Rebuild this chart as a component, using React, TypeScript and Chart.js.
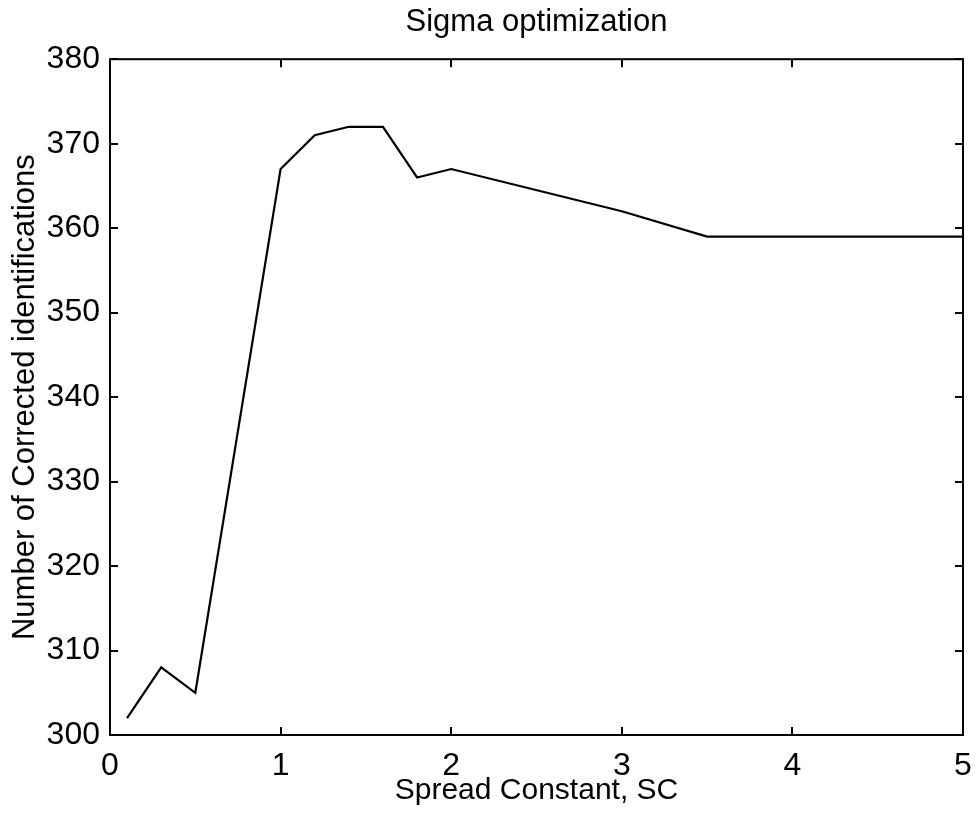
import React, { useEffect, useRef } from "react";
import { Chart, registerables } from "chart.js";

Chart.register(...registerables);

const spreadConstant = [0.1, 0.3, 0.5, 1.0, 1.2, 1.4, 1.6, 1.8, 2.0, 3.0, 3.5, 4.0, 4.5, 5.0];
const correctedIds = [302, 308, 305, 367, 371, 372, 372, 366, 367, 362, 359, 359, 359, 359];

const titleText = "Sigma optimization";
const xTitle = "Spread Constant, SC";
const yTitle = "Number of Corrected identifications";

const FONT = "'Liberation Sans', Arial, Helvetica, sans-serif";

const framePlugin = {
  id: "matlabFrame",
  afterDraw(chart: any) {
    const { ctx, chartArea, scales } = chart;
    const { left, right, top, bottom } = chartArea;
    const x = scales.x;
    const y = scales.y;
    const len = 8;
    ctx.save();
    ctx.strokeStyle = "#000";
    ctx.lineWidth = 2;
    ctx.beginPath();
    x.ticks.forEach((t: any) => {
      const px = Math.round(x.getPixelForValue(t.value));
      ctx.moveTo(px, bottom);
      ctx.lineTo(px, bottom - len);
      ctx.moveTo(px, top);
      ctx.lineTo(px, top + len);
    });
    y.ticks.forEach((t: any) => {
      const py = Math.round(y.getPixelForValue(t.value));
      ctx.moveTo(left, py);
      ctx.lineTo(left + len, py);
      ctx.moveTo(right, py);
      ctx.lineTo(right - len, py);
    });
    ctx.stroke();
    ctx.strokeRect(left, top, right - left, bottom - top);
    ctx.restore();
  },
};

export default function App() {
  const ref = useRef<HTMLCanvasElement>(null);

  useEffect(() => {
    if (!ref.current) return;
    const chart = new Chart(ref.current, {
      type: "line",
      data: {
        datasets: [
          {
            data: spreadConstant.map((v, i) => ({ x: v, y: correctedIds[i] })),
            borderColor: "#000",
            borderWidth: 2.2,
            pointRadius: 0,
            tension: 0,
            fill: false,
          },
        ],
      },
      options: {
        responsive: false,
        animation: false,
        devicePixelRatio: 1,
        layout: { padding: { left: 0, right: 13, top: 0, bottom: 0 } },
        plugins: {
          legend: { display: false },
          tooltip: { enabled: false },
          title: {
            display: true,
            text: titleText,
            fullSize: false,
            color: "#000",
            font: { family: FONT, size: 31, weight: "normal" },
            padding: { top: 4, bottom: 18 },
          },
        },
        scales: {
          x: {
            type: "linear",
            min: 0,
            max: 5,
            grid: { display: false, drawTicks: false },
            border: { display: false },
            ticks: {
              stepSize: 1,
              padding: 12,
              color: "#000",
              font: { family: FONT, size: 32 },
              maxRotation: 0,
            },
            title: {
              display: true,
              text: xTitle,
              color: "#000",
              font: { family: FONT, size: 30 },
              padding: { top: 0, bottom: 7 },
            },
            afterFit: (s: any) => {
              s.height = 81;
              s.paddingRight = 0;
              s.paddingLeft = 0;
            },
          },
          y: {
            type: "linear",
            min: 300,
            max: 380,
            grid: { display: false, drawTicks: false },
            border: { display: false },
            ticks: {
              stepSize: 10,
              padding: 10,
              color: "#000",
              font: { family: FONT, size: 32 },
            },
            title: {
              display: true,
              text: yTitle,
              color: "#000",
              font: { family: FONT, size: 31 },
              padding: { top: 7, bottom: 0 },
            },
            afterFit: (s: any) => {
              s.width = 110;
            },
          },
        },
      } as any,
      plugins: [framePlugin],
    });
    return () => chart.destroy();
  }, []);

  return (
    <div style={{ position: "absolute", left: 0, top: 0, width: 976, height: 816, background: "#fff" }}>
      <canvas ref={ref} width={976} height={816} />
    </div>
  );
}
